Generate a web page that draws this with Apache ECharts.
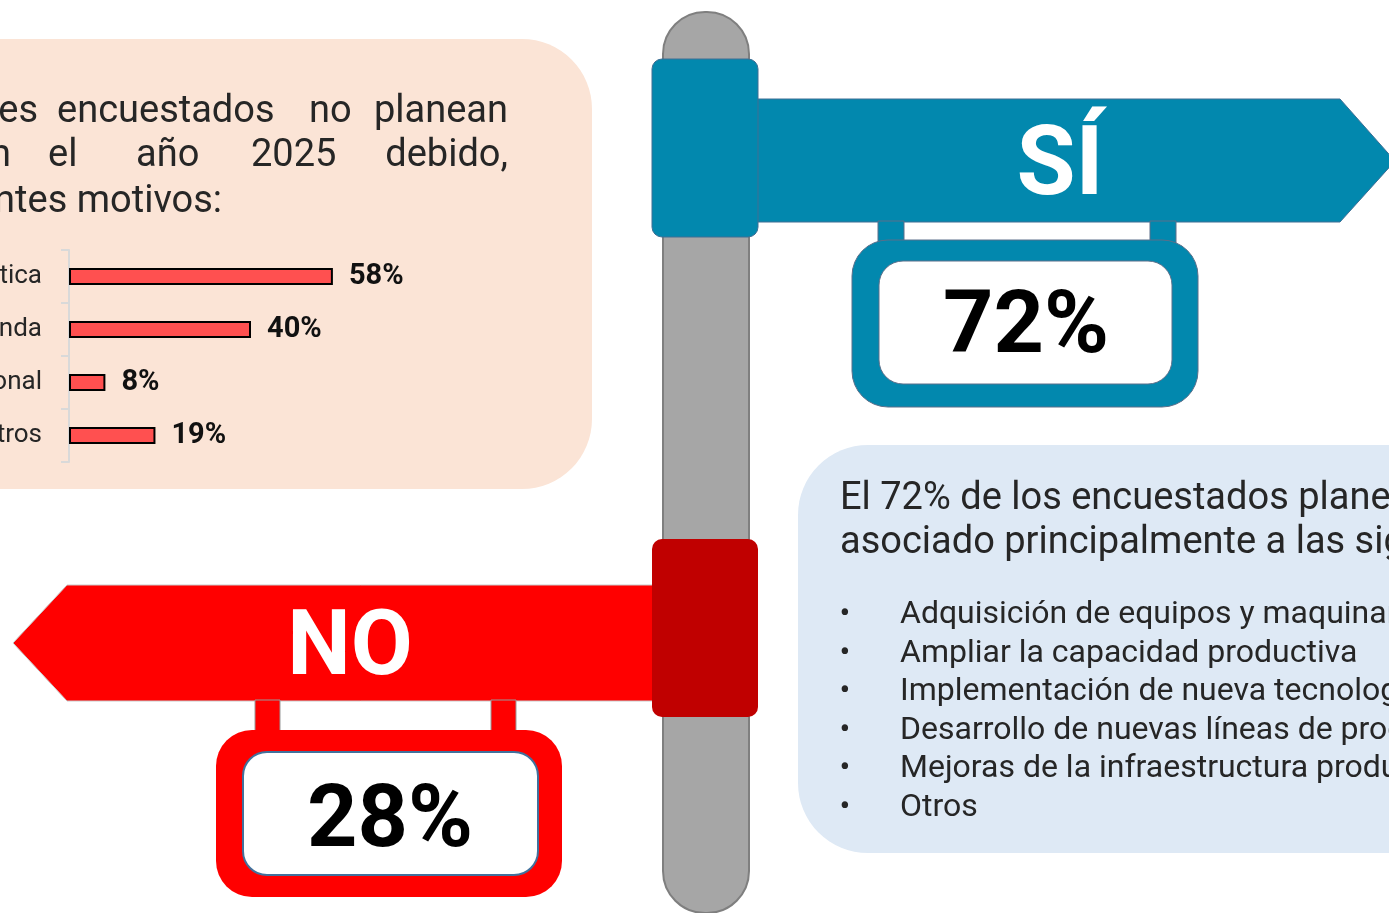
<!DOCTYPE html>
<html>
<head>
<meta charset="utf-8">
<script src="https://cdn.jsdelivr.net/npm/echarts@6/dist/echarts.min.js"></script>
<style>
  html, body { margin: 0; padding: 0; background: #fff; }
  #main { width: 1389px; height: 913px; }
</style>
</head>
<body>
<div id="main"></div>
<script>
// motivos para no invertir (porcentaje de encuestados)
var motivos = ['Incertidumbre política', 'Baja demanda', 'Situación económica nacional', 'Otros'];
var porcentajes = [58, 40, 8, 19];
var siLabel = 'SÍ';
var siValor = '72%';
var noLabel = 'NO';
var noValor = '28%';
var razonesSi = [
  'Adquisición de equipos y maquinaria',
  'Ampliar la capacidad productiva',
  'Implementación de nueva tecnología',
  'Desarrollo de nuevas líneas de productos',
  'Mejoras de la infraestructura productiva',
  'Otros'
];

var chartDom = document.getElementById('main');
var myChart = echarts.init(chartDom);
var option;

var FONT = 'Roboto';
var txt = '#262626';
var blue = '#0288AE';
var edge = '#41719C';

function word(x, y, s, align, size, extra) {
  var st = {
    text: s, x: x, y: y, fill: txt,
    fontSize: size || 38, fontFamily: FONT, fontWeight: 'normal',
    textAlign: align || 'left', textVerticalAlign: 'middle'
  };
  if (extra) for (var k in extra) st[k] = extra[k];
  return { type: 'text', z: 10, style: st };
}

var graphics = [
  // panel durazno
  { type: 'rect', z: 0, shape: { x: -80, y: 39, width: 672, height: 450, r: 70 },
    style: { fill: '#FBE4D6' } },
  // panel azul
  { type: 'rect', z: 0, shape: { x: 798, y: 445, width: 700, height: 408, r: 70 },
    style: { fill: '#DEE9F5' } },

  // poste
  { type: 'rect', z: 1, shape: { x: 663, y: 12, width: 86, height: 901, r: 42 },
    style: { fill: '#A6A6A6', stroke: '#7F7F7F', lineWidth: 2 } },

  // letrero SÍ
  { type: 'polygon', z: 2, shape: { points: [[756, 99], [1340, 99], [1395, 161], [1340, 222], [756, 222]] },
    style: { fill: blue, stroke: '#3E6E94', lineWidth: 1 } },
  { type: 'rect', z: 3, shape: { x: 652, y: 59, width: 106, height: 178, r: 10 },
    style: { fill: blue, stroke: '#3E6E94', lineWidth: 1 } },
  { type: 'rect', z: 2, shape: { x: 878, y: 221, width: 26, height: 22 },
    style: { fill: blue, stroke: '#5A6F8A', lineWidth: 1 } },
  { type: 'rect', z: 2, shape: { x: 1150, y: 221, width: 26, height: 22 },
    style: { fill: blue, stroke: '#5A6F8A', lineWidth: 1 } },
  { type: 'rect', z: 3, shape: { x: 852, y: 240, width: 346, height: 167, r: 36 },
    style: { fill: blue, stroke: '#5A6F8A', lineWidth: 1 } },
  { type: 'rect', z: 4, shape: { x: 879, y: 261, width: 293, height: 123, r: 24 },
    style: { fill: '#fff', stroke: '#5A6F8A', lineWidth: 1 } },
  word(1060, 170, siLabel, 'center', 96, { fill: '#fff', fontWeight: 'bold' }),
  word(1026, 330, siValor, 'center', 88, { fill: '#000', fontWeight: 'bold' }),

  // letrero NO
  { type: 'polygon', z: 2, shape: { points: [[654, 585], [67, 585], [13, 643], [67, 701], [654, 701]] },
    style: { fill: '#FF0000', stroke: '#C9C9C9', lineWidth: 1 } },
  { type: 'rect', z: 3, shape: { x: 652, y: 539, width: 106, height: 178, r: 10 },
    style: { fill: '#C00000' } },
  { type: 'rect', z: 2, shape: { x: 255, y: 700, width: 25, height: 32 },
    style: { fill: '#FF0000', stroke: '#9A9A9A', lineWidth: 1 } },
  { type: 'rect', z: 2, shape: { x: 491, y: 700, width: 25, height: 32 },
    style: { fill: '#FF0000', stroke: '#9A9A9A', lineWidth: 1 } },
  { type: 'rect', z: 3, shape: { x: 216, y: 730, width: 346, height: 167, r: 36 },
    style: { fill: '#FF0000' } },
  { type: 'rect', z: 4, shape: { x: 243, y: 752, width: 295, height: 123, r: 24 },
    style: { fill: '#fff', stroke: edge, lineWidth: 2 } },
  word(350, 651, noLabel, 'center', 90, { fill: '#fff', fontWeight: 'bold' }),
  word(390, 824, noValor, 'center', 88, { fill: '#000', fontWeight: 'bold' }),

  // texto panel durazno (justificado)
  word(38, 112, 'Los productores', 'right'),
  word(57, 112, 'encuestados'),
  word(309, 112, 'no'),
  word(508, 112, 'planean', 'right'),
  word(11, 156, 'invertir en', 'right'),
  word(48, 156, 'el'),
  word(136, 156, 'año'),
  word(251, 156, '2025'),
  word(508, 156, 'debido,', 'right'),
  word(222, 202, 'a los siguientes motivos:', 'right'),

  // texto panel azul
  word(840, 499, 'El 72% de los encuestados planean invertir en el año 2025,'),
  word(840, 543, 'asociado principalmente a las siguientes razones:')
];

razonesSi.forEach(function (r, i) {
  var y = 615 + i * 38.6;
  graphics.push(word(845, y, '•', 'center', 32));
  graphics.push(word(900, y, r, 'left', 32));
});

option = {
  animation: false,
  backgroundColor: '#fff',
  graphic: graphics,
  grid: { left: 69, top: 250, width: 455, height: 212, containLabel: false, outerBoundsMode: 'none' },
  xAxis: {
    type: 'value', min: 0, max: 100, show: false
  },
  yAxis: {
    type: 'category',
    inverse: true,
    data: motivos,
    axisLine: { show: true, lineStyle: { color: '#D9D9D9', width: 2 } },
    axisTick: { show: true, length: 8, lineStyle: { color: '#D9D9D9', width: 2 } },
    axisLabel: { margin: 27, color: txt, fontSize: 26, fontFamily: FONT }
  },
  series: [
    {
      type: 'bar',
      z: 5,
      data: porcentajes,
      barWidth: 17,
      itemStyle: { color: '#FF5050', borderColor: '#000', borderWidth: 2 },
      label: {
        show: true, position: 'right', distance: 16,
        formatter: '{c}%', color: '#111', fontSize: 29,
        fontWeight: 'bold', fontFamily: FONT
      }
    }
  ]
};

option && myChart.setOption(option);
</script>
</body>
</html>
